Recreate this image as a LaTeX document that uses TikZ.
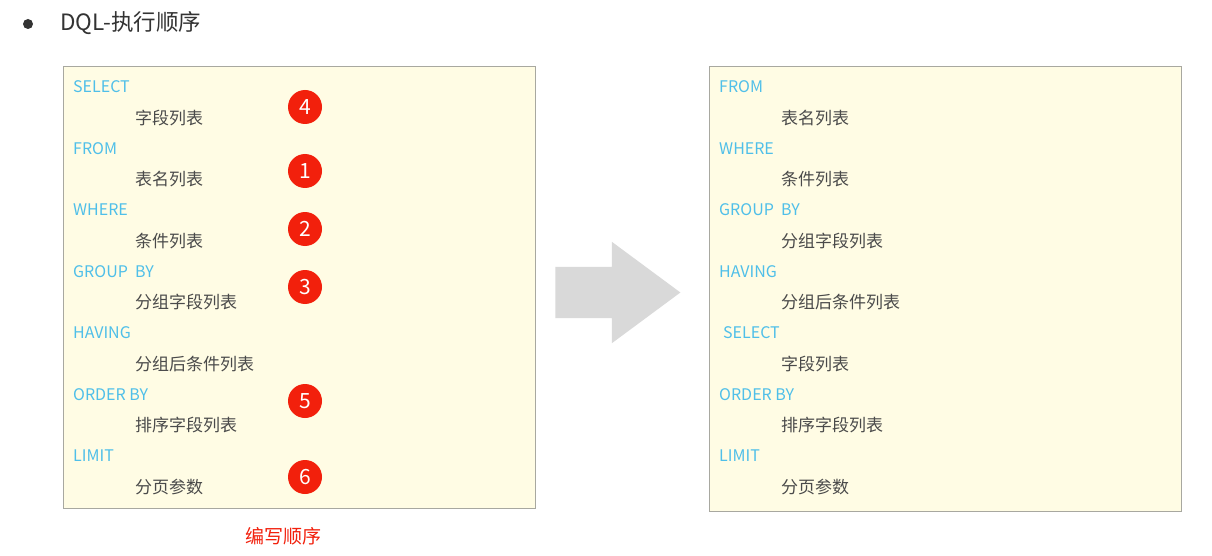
\documentclass[tikz,border=0pt]{standalone}
\usepackage{fontspec}
\setmainfont{Noto Sans CJK SC}
\usepackage{xcolor}
\usetikzlibrary{positioning,shapes.arrows}
\definecolor{kwblue}{HTML}{4FBFE9}
\definecolor{itemgray}{HTML}{4A4A4A}
\definecolor{panelfill}{HTML}{FFFCE4}
\definecolor{panelline}{HTML}{A8A8A0}
\definecolor{badgered}{HTML}{F2200C}
\definecolor{flowgray}{HTML}{D9D9D9}
\definecolor{titlegray}{HTML}{333333}
\tikzset{
  panel/.style   ={draw=panelline, fill=panelfill, line width=1pt, rectangle, anchor=north west, inner sep=0pt},
  kw/.style      ={anchor=west, text=kwblue, inner sep=0pt, font=\fontsize{16}{16}\selectfont},
  item/.style    ={anchor=west, text=itemgray, inner sep=0pt, font=\fontsize{17}{17}\selectfont},
  badge/.style   ={circle, fill=badgered, text=white, minimum size=34pt, inner sep=0pt, font=\fontsize{21}{21}\selectfont},
  bigarrow/.style={single arrow, fill=flowgray, draw=none, inner xsep=0pt, inner ysep=25.5pt,
                   minimum height=125pt, single arrow head extend=25pt, single arrow tip angle=73},
  dot/.style     ={circle, fill=titlegray, minimum size=10pt, inner sep=0pt},
  title/.style   ={anchor=west, text=titlegray, inner sep=0pt, font=\fontsize{22.5}{22.5}\selectfont},
  caption/.style ={text=badgered, inner sep=0pt, font=\fontsize{19}{19}\selectfont},
}

\begin{document}
\begin{tikzpicture}[x=1pt, y=-1pt]
  \useasboundingbox[fill=white] (0,0) rectangle (1212,556);

  % heading
  \node[dot] (bullet) at (28,24) {};
  \node[title] (head) at (60,23) {DQL-执行顺序};

  % panels
  \node[panel, minimum width=472pt, minimum height=442pt] (writebox) at (63,66) {};
  \node[panel, minimum width=472pt, minimum height=445pt] (execbox) at (709,66) {};

  % written order
  \foreach \kwd/\itm [count=\i] in {SELECT/字段列表, FROM/表名列表, WHERE/条件列表,
      GROUP~~BY/分组字段列表, HAVING/分组后条件列表, ORDER BY/排序字段列表, LIMIT/分页参数} {
    \node[kw]   (wk\i) at (73, {87+(\i-1)*61.5}) {\kwd};
    \node[item] (wi\i) at (135,{118+(\i-1)*61.5}) {\itm};
  }

  % execution order
  \foreach \kwd/\itm [count=\i] in {FROM/表名列表, WHERE/条件列表, GROUP~~BY/分组字段列表,
      HAVING/分组后条件列表, \hspace*{4pt}SELECT/字段列表, ORDER BY/排序字段列表, LIMIT/分页参数} {
    \node[kw]   (ek\i) at (719,{87+(\i-1)*61.5}) {\kwd};
    \node[item] (ei\i) at (781,{118+(\i-1)*61.5}) {\itm};
  }

  % step badges
  \foreach \num/\yy in {4/107, 1/171, 2/229, 3/287, 5/401, 6/477}
    \node[badge] (b\num) at (305,\yy) {\num};

  \node[bigarrow] (flow) at (600.5,292.5) {};
  \node[caption] (cap) at (283,536) {编写顺序};
\end{tikzpicture}
\end{document}
